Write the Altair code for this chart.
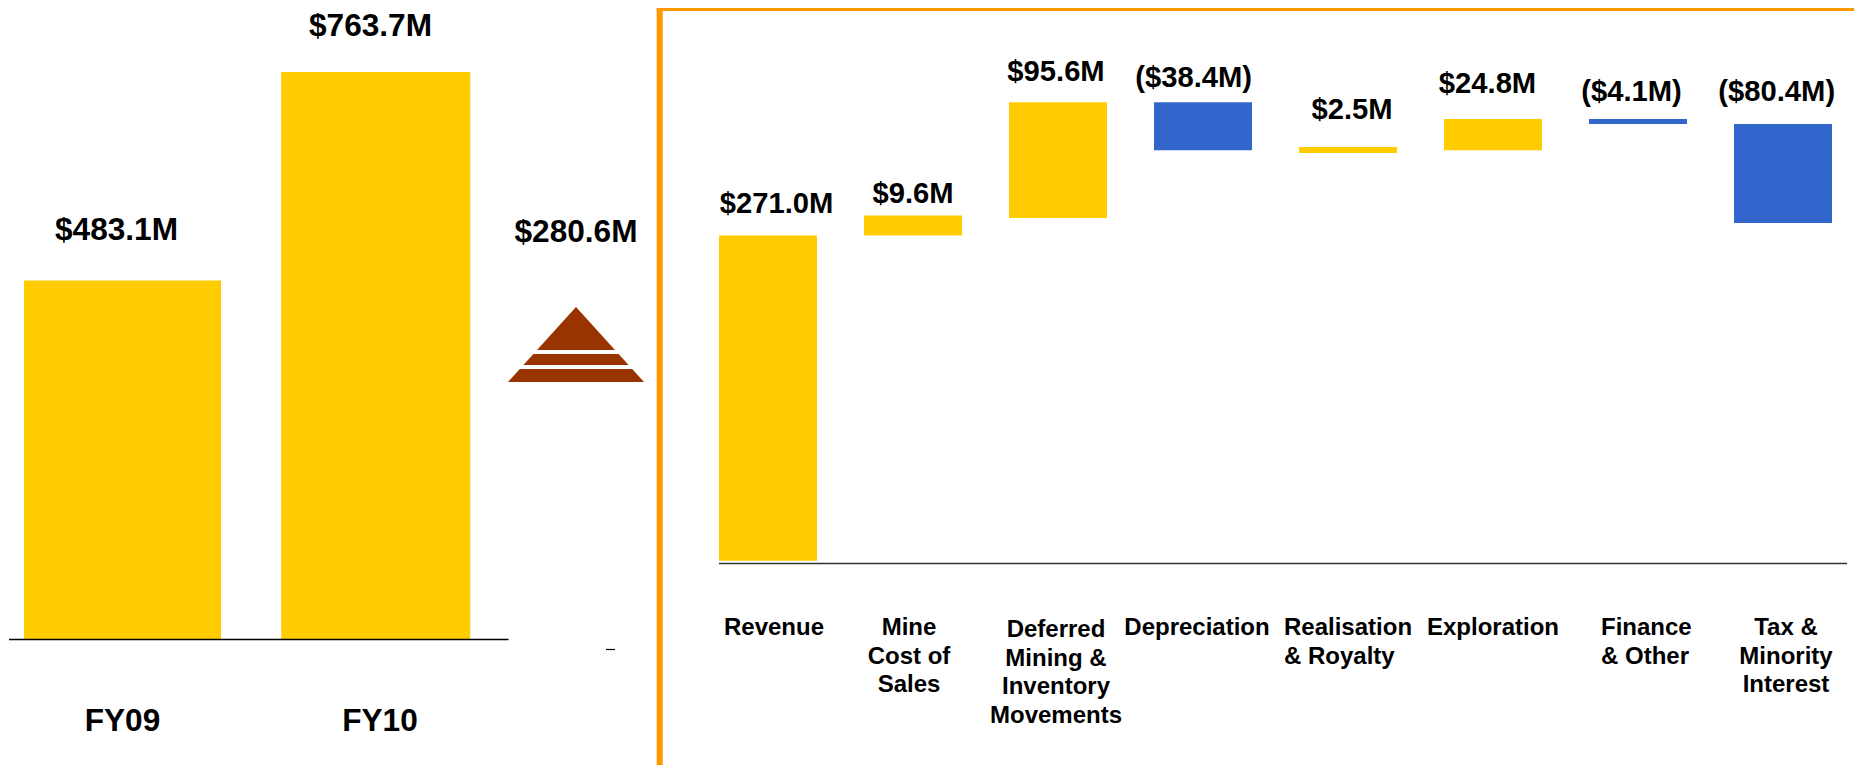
import altair as alt
import pandas as pd

# ---------- data ----------
years = ["FY09", "FY10"]
year_values = [483.1, 763.7]
year_labels = ["$483.1M", "$763.7M"]
total_change = "$280.6M"

categories = ["Revenue", "Mine Cost of Sales", "Deferred Mining & Inventory Movements",
              "Depreciation", "Realisation & Royalty", "Exploration", "Finance & Other",
              "Tax & Minority Interest"]
bar_start = [0, 271, 285.6, 382, 339.8, 342, 368, 364]
bar_end = [271, 287.6, 382, 342, 344.8, 368, 364, 281.4]
bar_kind = ["up", "up", "up", "down", "up", "up", "down", "down"]
value_labels = ["$271.0M", "$9.6M", "$95.6M", "($38.4M)", "$2.5M", "$24.8M", "($4.1M)", "($80.4M)"]
category_lines = [["Revenue"], ["Mine", "Cost of", "Sales"],
                  ["Deferred", "Mining &", "Inventory", "Movements"], ["Depreciation"],
                  ["Realisation", "& Royalty"], ["Exploration"], ["Finance", "& Other"],
                  ["Tax &", "Minority", "Interest"]]

# ---------- style ----------
FONT = "Liberation Sans"
GOLD, BLUE, BROWN, ORANGE = "#FFCC00", "#3366CC", "#993300", "#FF9900"
PAGE = 8
W, H = 1846, 757

one = pd.DataFrame({"a": [0]})


def txt(text, x, y, size, align="center", baseline="middle"):
    return alt.Chart(pd.DataFrame({"t": [text]})).mark_text(
        font=FONT, fontWeight="bold", fontSize=size, color="black", lineHeight=28.5,
        baseline=baseline, align=align,
    ).encode(x=alt.value(x - PAGE), y=alt.value(y - PAGE), text="t")


def hrule(x1, x2, y, color="black", width=1.0):
    return alt.Chart(one).mark_rule(color=color, strokeWidth=width).encode(
        x=alt.value(x1 - PAGE), x2=alt.value(x2 - PAGE), y=alt.value(y - PAGE))


# ---------- left panel ----------
left_df = pd.DataFrame({"year": years, "value": year_values, "label": year_labels})
lx = alt.X("year:N", axis=None, scale=alt.Scale(type="point", domain=years, range=[114.5, 367.75], padding=0))
ly = alt.Y("value:Q", axis=None, scale=alt.Scale(domain=[0, 849.8], range=[631.5, 0]))
bar_widths = {"FY09": 197, "FY10": 189}
left_layers = [
    alt.Chart(left_df[left_df.year == y]).mark_bar(size=bar_widths[y], color=GOLD).encode(x=lx, y=ly)
    for y in years
]
left_layers += [
    hrule(9, 508.5, 639.5, width=1.5),
    hrule(606, 615, 649.5, width=1.2),
    txt(year_labels[0], 116.5, 230.5, 31.6),
    txt(year_labels[1], 370.5, 27, 31.6),
    txt(years[0], 122.5, 722, 31.6),
    txt(years[1], 380, 722, 31.6),
    txt(total_change, 576, 232.5, 31.6),
    alt.Chart(one).mark_point(
        filled=True, color=BROWN, opacity=1, strokeWidth=0, size=136 ** 2,
        shape="M0,-.5515L.5735,.0809L-.5735,.0809Z"
              "M-.6266,.1397L.6266,.1397L.7735,.3015L-.7735,.3015Z"
              "M-.8265,.3603L.8265,.3603L1,.5515L-1,.5515Z",
    ).encode(x=alt.value(568), y=alt.value(336.5)),
]

# ---------- right panel ----------
right_df = pd.DataFrame({"cat": categories, "start": bar_start, "end": bar_end, "kind": bar_kind})
rx = alt.X("cat:N", axis=None, sort=categories,
           scale=alt.Scale(type="point", domain=categories, range=[760, 1775], padding=0))
ry = alt.Y("start:Q", axis=None, scale=alt.Scale(domain=[0, 460.6], range=[552.7, 0]))
bars = alt.Chart(right_df).mark_bar(size=98).encode(
    x=rx, y=ry, y2="end:Q",
    color=alt.Color("kind:N", legend=None, scale=alt.Scale(domain=["up", "down"], range=[GOLD, BLUE])),
)
value_pos = [(776.5, 204), (913, 194), (1056, 72), (1193.6, 78), (1352, 110), (1487.5, 84), (1631.5, 92), (1776.7, 92)]
cat_pos = [(774, 616), (909, 616), (1056, 618), (1197, 616), (1284, 616), (1493, 616), (1601, 616), (1786, 616)]
cat_align = ["center", "center", "center", "center", "left", "center", "left", "center"]
right_layers = [bars, hrule(719, 1847, 563.5, color="#333333", width=1.5)]
for lab, (x, y) in zip(value_labels, value_pos):
    right_layers.append(txt(lab, x, y, 29.2))
for lines, (x, y), al in zip(category_lines, cat_pos, cat_align):
    right_layers.append(txt(lines, x, y, 24, align=al, baseline="top"))
# orange frame (the reference's top edge sits in the page margin, so only its lower part can show)
right_layers += [
    alt.Chart(one).mark_rule(color=ORANGE, strokeWidth=6).encode(
        x=alt.value(659.7 - PAGE), y=alt.value(0), y2=alt.value(H)),
    hrule(656.7, 1862, 9.5, color=ORANGE, width=3),
]

chart = (
    alt.layer(*left_layers, *right_layers)
    .resolve_scale(x="independent", y="independent", color="independent")
    .properties(width=W, height=H, padding=0, background="white",
                autosize=alt.AutoSizeParams(type="none"))
    .configure_view(stroke="transparent", strokeWidth=0)
)
chart.save("out.html", embed_options={"renderer": "svg", "actions": False})
